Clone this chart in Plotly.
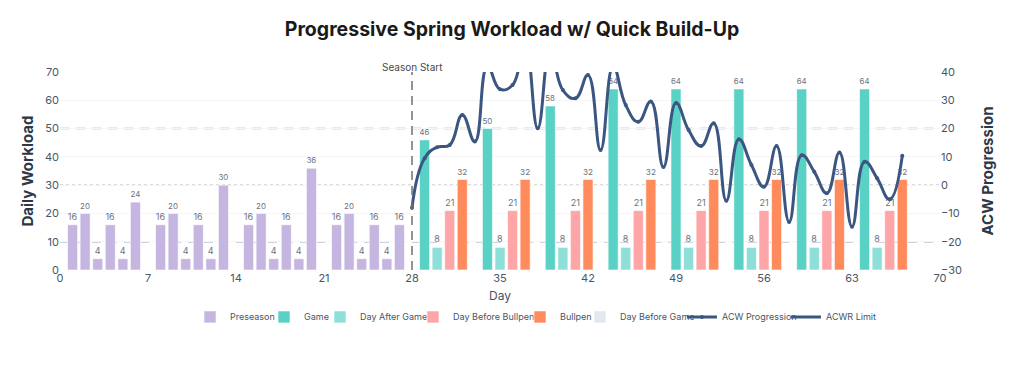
import plotly.graph_objects as go

# ---- data ----
pre_days = [1, 2, 3, 4, 5, 6, 8, 9, 10, 11, 12, 13, 15, 16, 17, 18, 19, 20, 22, 23, 24, 25, 26, 27]
pre_vals = [16, 20, 4, 16, 4, 24, 16, 20, 4, 16, 4, 30, 16, 20, 4, 16, 4, 36, 16, 20, 4, 16, 4, 16]

game_days = [29, 34, 39, 44, 49, 54, 59, 64]
game_vals = [46, 50, 58, 64, 64, 64, 64, 64]

dag_days = [30, 35, 40, 45, 50, 55, 60, 65]
dag_vals = [8, 8, 8, 8, 8, 8, 8, 8]

dbb_days = [31, 36, 41, 46, 51, 56, 61, 66]
dbb_vals = [21, 21, 21, 21, 21, 21, 21, 21]

bp_days = [32, 37, 42, 47, 52, 57, 62, 67]
bp_vals = [32, 32, 32, 32, 32, 32, 32, 32]

dbg_days = [33, 38, 43, 48, 53, 58, 63]
dbg_vals = [0, 0, 0, 0, 0, 0, 0]

acw_days = list(range(28, 68))
acw_vals = [-8, 9.5, 13.4, 14.2, 24.8, 15.4, 42, 33.9, 35.4, 50,
            20.1, 48, 33.6, 30.7, 38.9, 12.4, 42, 28.3, 22.4, 29.6,
            6.4, 29.0, 19.5, 13.8, 21.9, -5.5, 16.2, 7.1, -0.6, 13.8,
            -13, 10.6, 4.7, -2.9, 11.5, -14.7, 8.3, 2.4, -5.0, 10.4]

limit_levels = [50, 30, 10]  # on Daily Workload axis (= +20, 0, -20 ACW)
limit_dash = ["dash", "dot", "dash"]
season_start = 28

x_ticks = [0, 7, 14, 21, 28, 35, 42, 49, 56, 63, 70]

# legend entry left positions (pixels from page left), one legend per entry
legend_px = [190, 264, 320, 413, 520, 580, 682, 786]

# ---- figure ----
FONT = "Inter"
LABEL = dict(size=9, color="#6b7280", family=FONT)
PLOT_L, PLOT_W = 60, 880
fig = go.Figure()
legend_ids = ["legend"] + [f"legend{i}" for i in range(2, 9)]
idx = [0]

def next_legend():
    lid = legend_ids[idx[0]]
    idx[0] += 1
    return lid

def add_bar(name, xs, ys, color, show_text=True):
    fig.add_trace(go.Bar(
        name=name, x=xs, y=ys, width=0.8,
        marker=dict(color=color, line=dict(color="rgba(255,255,255,0.6)", width=1)),
        text=[str(v) for v in ys] if show_text else None,
        textposition="outside", textfont=LABEL, cliponaxis=False,
        yaxis="y", legend=next_legend(),
    ))

add_bar("Preseason", pre_days, pre_vals, "#c4b6e0")
add_bar("Game", game_days, game_vals, "#5ad1c5")
add_bar("Day After Game", dag_days, dag_vals, "#8ddfd8")
add_bar("Day Before Bullpen", dbb_days, dbb_vals, "#fea5a7")
add_bar("Bullpen", bp_days, bp_vals, "#ff8a5b")
add_bar("Day Before Game", dbg_days, dbg_vals, "#e2e8f0", show_text=False)

fig.add_trace(go.Scatter(
    name="ACW Progression", x=acw_days, y=acw_vals, yaxis="y2",
    mode="lines+markers", line=dict(color="#3b5680", width=3, shape="spline", smoothing=1.3),
    marker=dict(size=4, color="#3b5680"), legend=next_legend(),
))
fig.add_trace(go.Scatter(
    name="ACWR Limit", x=[None], y=[None], yaxis="y2",
    mode="lines", line=dict(color="#3b5680", width=3), legend=next_legend(),
))

for lvl, dsh in zip(limit_levels, limit_dash):
    if dsh == "dash":
        ln = dict(color="#9eabc0", width=1.5, dash="9px,7px")
    else:
        ln = dict(color="#b5b5b5", width=1.5, dash="dot")
    fig.add_shape(type="line", xref="paper", x0=0, x1=1, yref="y", y0=lvl, y1=lvl,
                  line=ln, layer="below")

fig.add_shape(type="line", xref="x", x0=season_start, x1=season_start, yref="paper", y0=0, y1=1,
              line=dict(color="#707070", width=1.5, dash="9px,6px"))
fig.add_annotation(x=season_start, y=1.0, xref="x", yref="paper", yanchor="bottom", yshift=-3,
                   text="Season Start", showarrow=False,
                   font=dict(size=10, color="#4a4a4a", family=FONT))

legend_layouts = {}
for lid, px in zip(legend_ids, legend_px):
    legend_layouts[lid] = dict(orientation="h", x=(px - PLOT_L) / PLOT_W, xanchor="left",
                               y=-0.237, yanchor="middle", bgcolor="rgba(0,0,0,0)",
                               font=dict(size=9, color="#4a5568", family=FONT))

fig.update_layout(
    width=1024, height=366,
    margin=dict(l=60, r=84, t=72, b=96),
    paper_bgcolor="white", plot_bgcolor="white",
    barmode="overlay",
    font=dict(family=FONT, color="#4a5568", size=11),
    title=dict(text="<b>Progressive Spring Workload w/ Quick Build-Up</b>",
               x=0.5, xanchor="center", y=0.92, yanchor="middle",
               font=dict(size=19.5, color="#1a1a1a", family=FONT)),
    xaxis=dict(range=[0, 70], tickvals=x_ticks, showgrid=False, zeroline=False, automargin=False,
               title=dict(text="Day", font=dict(size=12, color="#4a5568"), standoff=7),
               tickfont=dict(size=11, color="#4a5568")),
    yaxis=dict(range=[0, 70], dtick=10, showgrid=True, gridcolor="#f5f5f7", zeroline=False, automargin=False,
               title=dict(text="<b>Daily Workload</b>", font=dict(size=15, color="#2d3748"), standoff=7),
               tickfont=dict(size=11, color="#4a5568")),
    yaxis2=dict(range=[-30, 40], dtick=10, overlaying="y", side="right", showgrid=False, zeroline=False,
                automargin=False,
                title=dict(text="<b>ACW Progression</b>", font=dict(size=15, color="#2d3748"), standoff=21),
                tickfont=dict(size=11, color="#4a5568")),
    showlegend=True,
    **legend_layouts,
)

fig.write_html("out.html", config={"displayModeBar": False},
               post_script="document.body.style.margin='0';")
